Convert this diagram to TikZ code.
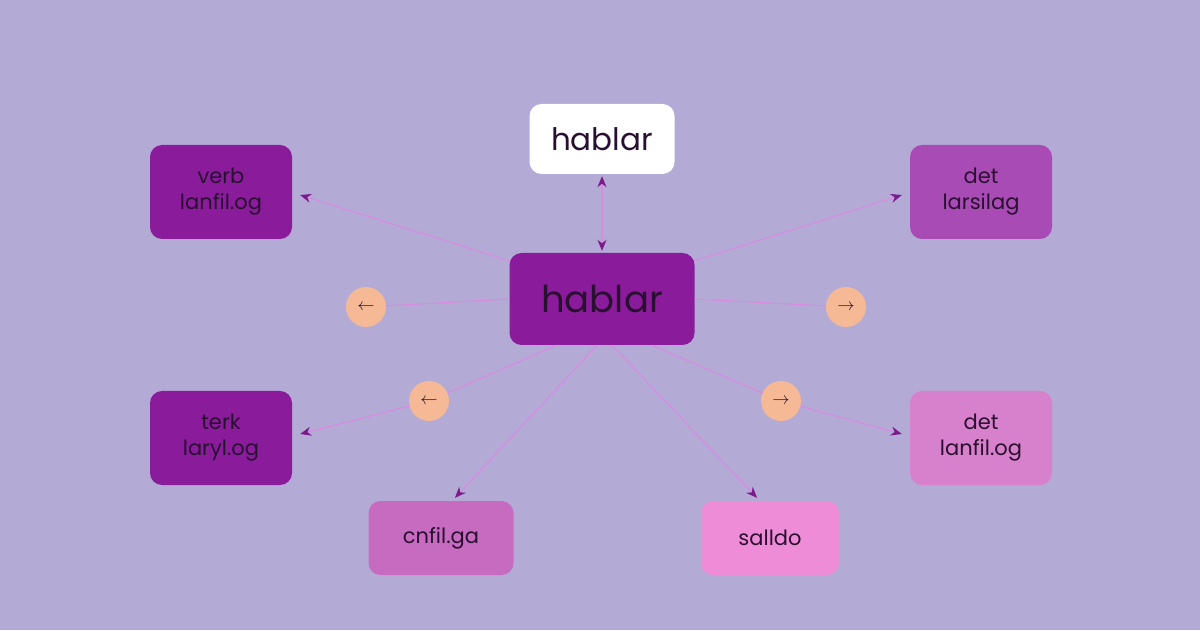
\documentclass[tikz,border=0pt]{standalone}
\usepackage{fontspec}
\setmainfont{Poppins}
\usetikzlibrary{arrows.meta,positioning}
\definecolor{bgc}{HTML}{B3AAD6}
\definecolor{deep}{HTML}{8A1C9C}
\definecolor{mid}{HTML}{A84BB5}
\definecolor{rose}{HTML}{C76BC0}
\definecolor{pinkc}{HTML}{D781CC}
\definecolor{light}{HTML}{EE8CD8}
\definecolor{peach}{HTML}{F5B995}
\definecolor{linec}{HTML}{D98BE0}
\definecolor{tipc}{HTML}{7B1A8A}
\definecolor{ink}{HTML}{2A1030}
\tikzset{
  box/.style={rounded corners=12pt, minimum width=142pt, minimum height=94pt,
    align=center, text=ink, font=\fontsize{21}{26}\selectfont},
  dot/.style={circle, fill=peach, minimum size=40pt, inner sep=0pt, text=ink,
    font=\fontsize{16}{16}\selectfont},
  link/.style={draw=linec, line width=1.1pt, -{Stealth[length=11pt,width=9pt,color=tipc]}},
}
\begin{document}
\begin{tikzpicture}[x=1pt,y=1pt]
\fill[bgc] (0,0) rectangle (1200,630);
\useasboundingbox (0,0) rectangle (1200,630);
% word nodes
\node[box, fill=white, minimum width=145pt, minimum height=70pt, font=\fontsize{31}{36}\selectfont] (top) at (602,491) {hablar};
\node[box, fill=deep, minimum width=185pt, minimum height=92pt, font=\fontsize{37}{42}\selectfont] (hub) at (602,331) {hablar};
\node[box, fill=deep] (verb) at (221,438) {verb\\lanfil.og};
\node[box, fill=mid] (detA) at (981,438) {det\\larsilag};
\node[box, fill=deep] (terk) at (221,192) {terk\\laryl.og};
\node[box, fill=pinkc] (detB) at (981,192) {det\\lanfil.og};
\node[box, fill=rose, minimum width=145pt, minimum height=74pt] (cnfil) at (441,92) {cnfil.ga};
\node[box, fill=light, minimum width=138pt, minimum height=74pt] (salldo) at (770,92) {salldo};
% arrow dots
\node[dot] (dl) at (366,323) {$\leftarrow$};
\node[dot] (dr) at (846,323) {$\rightarrow$};
\node[dot] (ddl) at (429,229) {$\leftarrow$};
\node[dot] (ddr) at (781,229) {$\rightarrow$};
% connectors
\draw[link, {Stealth[length=11pt,width=9pt,color=tipc]}-{Stealth[length=11pt,width=9pt,color=tipc]}] (top.south) ++(0,-2) -- ([yshift=2pt]hub.north);
\draw[link] (hub.north west) ++(0,-8) -- ([xshift=8pt,yshift=-3pt]verb.east);
\draw[link] (hub.north east) ++(0,-8) -- ([xshift=-8pt,yshift=-3pt]detA.west);
\draw[draw=linec, line width=1.1pt] (hub.west) -- (dl);
\draw[draw=linec, line width=1.1pt] (hub.east) -- (dr);
\draw[draw=linec, line width=1.1pt] ([xshift=-45pt]hub.south) -- (ddl);
\draw[link] (ddl) -- ([xshift=8pt,yshift=4pt]terk.east);
\draw[draw=linec, line width=1.1pt] ([xshift=50pt]hub.south) -- (ddr);
\draw[link] (ddr) -- ([xshift=-8pt,yshift=4pt]detB.west);
\draw[link] ([xshift=-5pt]hub.south) -- ([xshift=14pt,yshift=3pt]cnfil.north);
\draw[link] ([xshift=10pt]hub.south) -- ([xshift=-13pt,yshift=3pt]salldo.north);
\end{tikzpicture}
\end{document}
